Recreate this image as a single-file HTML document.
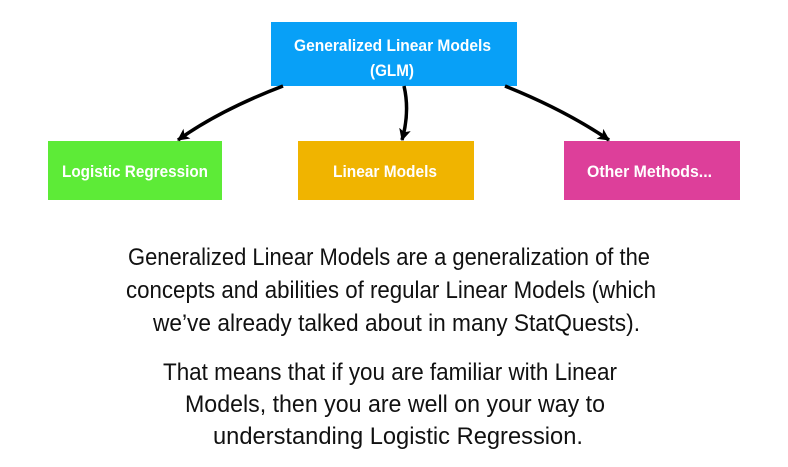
<!DOCTYPE html>
<html><head><meta charset="utf-8"><style>
html,body{margin:0;padding:0;background:#fff;width:788px;height:467px;overflow:hidden}
svg{display:block}
.b{font-family:"Liberation Sans",Arial,sans-serif;font-weight:bold;fill:#fff;font-size:17px}
.t{font-family:"Liberation Sans",Arial,sans-serif;fill:#111;font-size:24px}
</style></head><body>
<svg width="788" height="467" viewBox="0 0 788 467" xmlns="http://www.w3.org/2000/svg">
<defs><marker id="a" markerWidth="14" markerHeight="14" refX="11" refY="6" orient="auto" markerUnits="userSpaceOnUse"><path d="M0,0 L12,6 L0,12 L3,6 Z" fill="#000"/></marker></defs>
<rect x="271" y="22" width="246" height="64" fill="#08a0f7"/>
<rect x="48" y="141" width="174" height="59" fill="#5deb37"/>
<rect x="298" y="141" width="176" height="59" fill="#f0b400"/>
<rect x="564" y="141" width="176" height="59" fill="#dd3f9a"/>
<path d="M283,86 Q220,110 178,140" stroke="#000" stroke-width="3.5" fill="none" marker-end="url(#a)"/>
<path d="M404,86 Q410,112 402,140" stroke="#000" stroke-width="3.5" fill="none" marker-end="url(#a)"/>
<path d="M505,86 Q565,110 609,140" stroke="#000" stroke-width="3.5" fill="none" marker-end="url(#a)"/>
<text class="b" x="294" y="51" textLength="197" lengthAdjust="spacingAndGlyphs">Generalized Linear Models</text>
<text class="b" x="370" y="76" textLength="44" lengthAdjust="spacingAndGlyphs">(GLM)</text>
<text class="b" x="62" y="177" textLength="146" lengthAdjust="spacingAndGlyphs">Logistic Regression</text>
<text class="b" x="333" y="177" textLength="104" lengthAdjust="spacingAndGlyphs">Linear Models</text>
<text class="b" x="587" y="177" textLength="125" lengthAdjust="spacingAndGlyphs">Other Methods...</text>
<text class="t" x="128" y="265" textLength="522" lengthAdjust="spacingAndGlyphs">Generalized Linear Models are a generalization of the</text>
<text class="t" x="126" y="298" textLength="530" lengthAdjust="spacingAndGlyphs">concepts and abilities of regular Linear Models (which</text>
<text class="t" x="153" y="331" textLength="487" lengthAdjust="spacingAndGlyphs">we’ve already talked about in many StatQuests).</text>
<text class="t" x="163" y="380" textLength="454" lengthAdjust="spacingAndGlyphs">That means that if you are familiar with Linear</text>
<text class="t" x="185" y="412" textLength="420" lengthAdjust="spacingAndGlyphs">Models, then you are well on your way to</text>
<text class="t" x="213" y="444" textLength="370" lengthAdjust="spacingAndGlyphs">understanding Logistic Regression.</text>
</svg>
</body></html>
